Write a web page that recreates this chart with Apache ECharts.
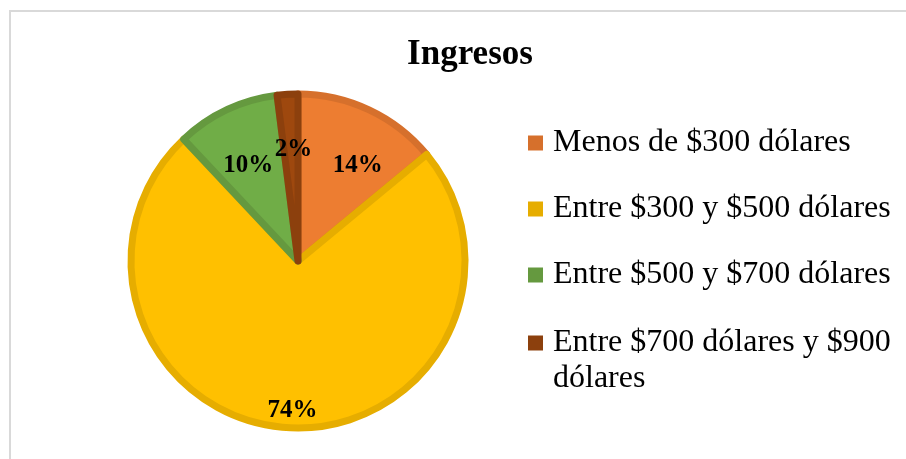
<!DOCTYPE html>
<html>
<head>
<meta charset="utf-8">
<script src="https://cdn.jsdelivr.net/npm/echarts@6/dist/echarts.min.js"></script>
<style>
  html, body { margin: 0; padding: 0; background: #fff; }
  #chart { width: 906px; height: 459px; }
</style>
</head>
<body>
<div id="chart"></div>
<script>
// datos del gráfico
var categorias = ['Menos de $300 dólares', 'Entre $300 y $500 dólares', 'Entre $500 y $700 dólares', 'Entre $700 dólares y $900 dólares'];
var valores = [14, 74, 10, 2];
var colores = ['#ED7D31', '#FFC000', '#70AD47', '#9E480E'];
var bordes = ['#D6702C', '#E6AD00', '#65993F', '#8C400D'];
// desplazamiento de cada etiqueta respecto a la posición 'inside'
var desplaz = [[23, -17], [0, 63], [-13, -17], [1, -25]];

var chart = echarts.init(document.getElementById('chart'));

var serif = '"Liberation Serif", "Times New Roman", serif';

var datos = [];
categorias.forEach(function (c, i) {
    datos.push({
        name: c,
        value: valores[i],
        itemStyle: { color: colores[i], borderColor: bordes[i] },
        label: { offset: desplaz[i] }
    });
});

var leyendaA = [], leyendaB = [];
categorias.forEach(function (c, i) {
    var item = { name: c, itemStyle: { color: bordes[i], borderWidth: 0 } };
    if (i < 3) leyendaA.push(item); else leyendaB.push(item);
});

var legendText = {
    fontFamily: serif,
    fontSize: 32,
    lineHeight: 36,
    color: '#000',
    padding: [0, 0, 0, 5]
};

var option = {
    animation: false,
    graphic: [{
        type: 'rect',
        shape: { x: 10, y: 11, width: 1000, height: 1000 },
        style: { fill: 'none', stroke: '#d9d9d9', lineWidth: 2 },
        silent: true
    }],
    title: {
        text: 'Ingresos',
        left: 465,
        top: 32,
        textAlign: 'center',
        textStyle: { fontFamily: serif, fontSize: 35, fontWeight: 'bold', color: '#000' }
    },
    legend: [{
        orient: 'vertical',
        left: 528,
        top: 125,
        padding: 0,
        itemWidth: 15,
        itemHeight: 15,
        itemGap: 30,
        icon: 'rect',
        selectedMode: false,
        data: leyendaA,
        textStyle: legendText
    }, {
        orient: 'vertical',
        left: 528,
        top: 289,
        padding: 0,
        itemWidth: 15,
        itemHeight: 15,
        icon: 'rect',
        selectedMode: false,
        data: leyendaB,
        // línea vacía arriba para que el marcador quede junto a la primera línea,
        // y la última palabra pasa a la segunda línea
        formatter: function (name) {
            var i = name.lastIndexOf(' ');
            return '\n' + name.slice(0, i) + '\n' + name.slice(i + 1);
        },
        textStyle: legendText
    }],
    series: [{
        type: 'pie',
        center: [298, 261],
        radius: [0, 167],
        startAngle: 90,
        clockwise: true,
        silent: true,
        itemStyle: { borderWidth: 7 },
        label: {
            show: true,
            position: 'inside',
            formatter: '{c}%',
            fontFamily: serif,
            fontSize: 25,
            fontWeight: 'bold',
            color: '#000'
        },
        labelLine: { show: false },
        data: datos
    }]
};

chart.setOption(option);
</script>
</body>
</html>
